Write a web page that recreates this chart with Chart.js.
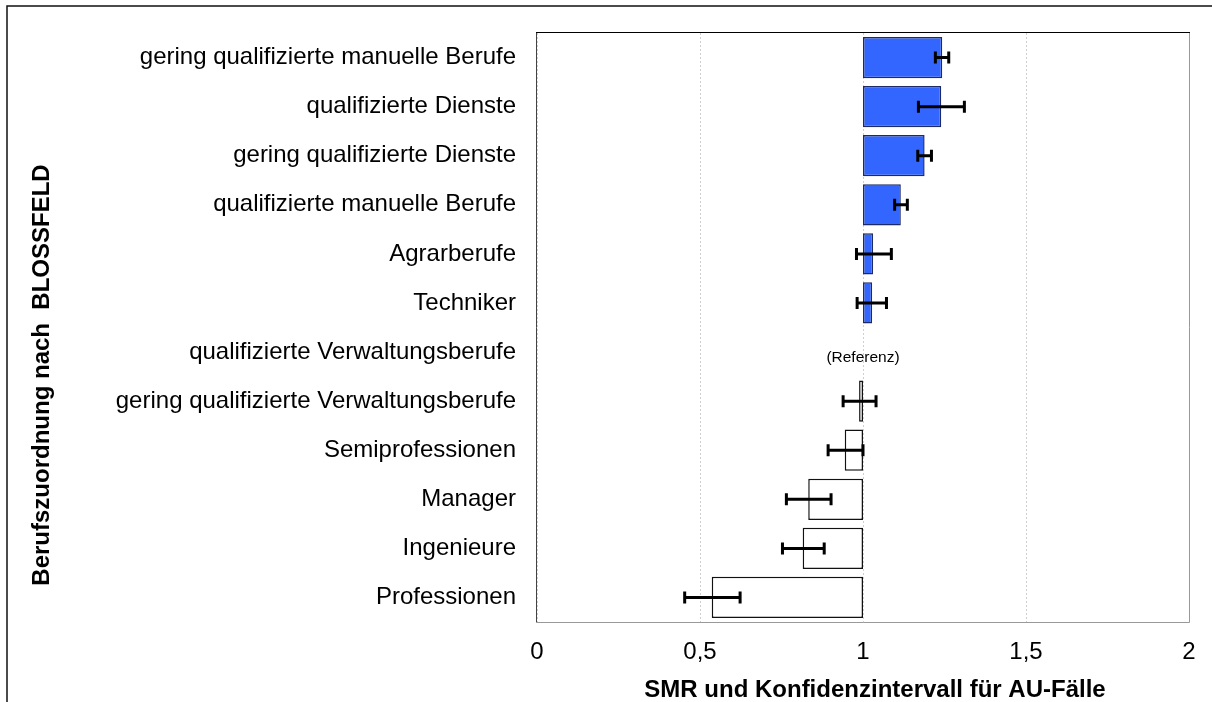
<!DOCTYPE html>
<html>
<head>
<meta charset="utf-8">
<script src="https://cdn.jsdelivr.net/npm/chart.js@4.4.1/dist/chart.umd.min.js"></script>
<style>
  html, body { margin: 0; padding: 0; background: #fff; }
  #wrap { width: 1212px; height: 702px; position: relative; }
</style>
</head>
<body>
<div id="wrap"><canvas id="smr-chart"></canvas></div>
<script>
// Berufsgruppen (top to bottom)
const categories = [
  "gering qualifizierte manuelle Berufe",
  "qualifizierte Dienste",
  "gering qualifizierte Dienste",
  "qualifizierte manuelle Berufe",
  "Agrarberufe",
  "Techniker",
  "qualifizierte Verwaltungsberufe",
  "gering qualifizierte Verwaltungsberufe",
  "Semiprofessionen",
  "Manager",
  "Ingenieure",
  "Professionen"
];
// SMR and confidence interval (null = reference group)
const smr   = [1.243, 1.240, 1.189, 1.116, 1.031, 1.028, null, 0.988, 0.944, 0.832, 0.815, 0.536];
const ciLow = [1.222, 1.170, 1.168, 1.097, 0.980, 0.982, null, 0.939, 0.893, 0.765, 0.753, 0.453];
const ciHigh= [1.263, 1.311, 1.210, 1.136, 1.087, 1.072, null, 1.040, 1.000, 0.902, 0.881, 0.623];
const xTicks = [0, 0.5, 1, 1.5, 2];
const referenceLabel = "(Referenz)";
const xTitle = "SMR und Konfidenzintervall für AU-Fälle";
const yTitle = "Berufszuordnung nach  BLOSSFELD";

const baseLine = 1;
const font = "'Liberation Sans', Arial, sans-serif";

// bars float from 1 to the SMR
const barData = smr.map(v => (v == null ? null : [baseLine, v]));
const fillColors = smr.map(v => (v != null && v > baseLine ? "#3366FF" : "#FFFFFF"));
const borderColors = smr.map(v => (v != null && v > baseLine ? "#1c2a66" : "#111111"));

// error bars, reference label, frames and titles
const extrasPlugin = {
  id: "extras",
  afterDatasetsDraw(chart) {
    const ctx = chart.ctx;
    const xs = chart.scales.x;
    const ys = chart.scales.y;
    ctx.save();
    ctx.strokeStyle = "#000";
    ctx.lineWidth = 3;
    ctx.lineCap = "butt";
    categories.forEach((c, i) => {
      if (ciLow[i] == null) return;
      const y = ys.getPixelForValue(i);
      const x1 = xs.getPixelForValue(ciLow[i]);
      const x2 = xs.getPixelForValue(ciHigh[i]);
      ctx.beginPath();
      ctx.moveTo(x1, y); ctx.lineTo(x2, y);
      ctx.moveTo(x1, y - 6); ctx.lineTo(x1, y + 6);
      ctx.moveTo(x2, y - 6); ctx.lineTo(x2, y + 6);
      ctx.stroke();
    });
    // reference marker
    const refIdx = smr.indexOf(null);
    ctx.fillStyle = "#000";
    ctx.font = "15.5px " + font;
    ctx.textAlign = "center";
    ctx.textBaseline = "middle";
    ctx.fillText(referenceLabel, xs.getPixelForValue(baseLine), ys.getPixelForValue(refIdx) + 6);
    ctx.restore();
  },
  afterDraw(chart) {
    const ctx = chart.ctx;
    const a = chart.chartArea;
    ctx.save();
    // plot frame
    ctx.lineWidth = 1;
    ctx.strokeStyle = "#999";
    ctx.beginPath();
    ctx.moveTo(a.right + 0.5, a.top); ctx.lineTo(a.right + 0.5, a.bottom + 0.5);
    ctx.lineTo(a.left, a.bottom + 0.5);
    ctx.stroke();
    ctx.strokeStyle = "#444";
    ctx.beginPath();
    ctx.moveTo(a.left - 0.5, a.bottom + 0.5); ctx.lineTo(a.left - 0.5, a.top);
    ctx.stroke();
    ctx.strokeStyle = "#000";
    ctx.beginPath();
    ctx.moveTo(a.left - 1, a.top - 0.5); ctx.lineTo(a.right + 1, a.top - 0.5);
    ctx.stroke();
    // outer frame
    ctx.strokeStyle = "#111";
    ctx.lineWidth = 1.5;
    ctx.beginPath();
    ctx.moveTo(7, 702); ctx.lineTo(7, 6); ctx.lineTo(1212, 6);
    ctx.stroke();
    // axis titles
    ctx.fillStyle = "#000";
    ctx.font = "bold 24px " + font;
    ctx.textAlign = "center";
    ctx.textBaseline = "middle";
    ctx.fillText(xTitle, 875, 690);
    ctx.textBaseline = "alphabetic";
    ctx.translate(49, 375);
    ctx.rotate(-Math.PI / 2);
    ctx.fillText(yTitle, 0, 0);
    ctx.restore();
  }
};

new Chart(document.getElementById("smr-chart"), {
  type: "bar",
  data: {
    labels: categories,
    datasets: [{
      data: barData,
      backgroundColor: fillColors,
      borderColor: borderColors,
      borderWidth: 1.5,
      borderSkipped: false,
      barPercentage: 0.84,
      categoryPercentage: 1
    }]
  },
  options: {
    indexAxis: "y",
    responsive: true,
    maintainAspectRatio: false,
    devicePixelRatio: 1,
    animation: false,
    layout: { padding: { left: 0, top: 33, right: 23, bottom: 0 } },
    plugins: { legend: { display: false }, tooltip: { enabled: false } },
    scales: {
      x: {
        min: 0,
        max: 2,
        afterBuildTicks: s => { s.ticks = xTicks.map(v => ({ value: v })); },
        afterFit: s => { s.height = 80; s.paddingLeft = 0; s.paddingRight = 0; },
        border: { display: false, dash: [2, 2] },
        grid: { color: "#cfcfcf", lineWidth: 1, drawTicks: false },
        ticks: {
          padding: 16,
          color: "#000",
          font: { family: font, size: 24 },
          callback: v => String(v).replace(".", ",")
        }
      },
      y: {
        afterFit: s => { s.width = 537; s.paddingTop = 0; s.paddingBottom = 0; },
        border: { display: false },
        grid: { display: false, drawTicks: false },
        ticks: {
          padding: 21,
          color: "#000",
          font: { family: font, size: 24 }
        }
      }
    }
  },
  plugins: [extrasPlugin]
});
</script>
</body>
</html>
